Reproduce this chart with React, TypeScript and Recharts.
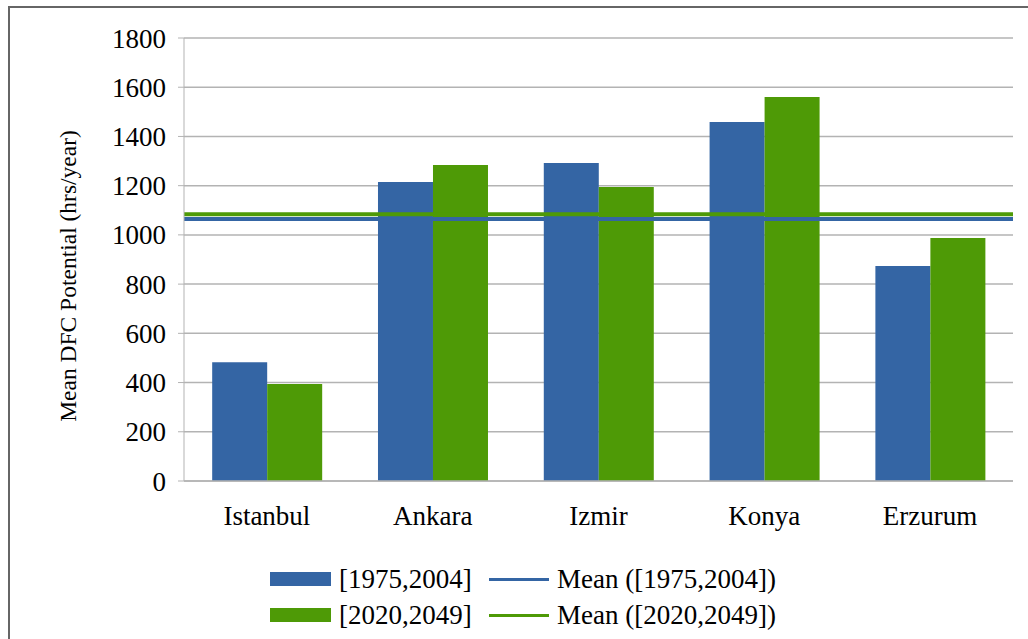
import { BarChart, Bar, XAxis, YAxis, CartesianGrid, ReferenceLine, Legend } from 'recharts'

const cities = ['Istanbul', 'Ankara', 'Izmir', 'Konya', 'Erzurum']
const baseline = [483, 1215, 1292, 1459, 874]
const future = [394, 1284, 1195, 1560, 987]
const seriesNames = ['[1975,2004]', '[2020,2049]']
const meanNames = ['Mean ([1975,2004])', 'Mean ([2020,2049])']
const meanValues = [1065, 1084]
const yTicks = [0, 200, 400, 600, 800, 1000, 1200, 1400, 1600, 1800]
const edgeTicks = [0, 1, 2, 3, 4, 5]

const BLUE = '#3465a4'
const GREEN = '#4e9a06'
const GRID = '#b3b3b3'
const FONT = '"Liberation Serif", "DejaVu Serif", serif'

const data = cities.map((name, i) => ({ name, baseline: baseline[i], future: future[i] }))

function LegendBox() {
  const colors = [BLUE, GREEN]
  return (
    <div style={{ fontFamily: FONT, fontSize: 27, color: '#000' }}>
      {colors.map((c, i) => (
        <div key={i} style={{ display: 'flex', alignItems: 'center', height: 36 }}>
          <div style={{ width: 219, display: 'flex', alignItems: 'center' }}>
            <div style={{ width: 61, height: 14, background: c, marginRight: 8 }} />
            <span>{seriesNames[i]}</span>
          </div>
          <div style={{ display: 'flex', alignItems: 'center' }}>
            <div style={{ width: 60, height: 3, background: c, marginRight: 8 }} />
            <span>{meanNames[i]}</span>
          </div>
        </div>
      ))}
    </div>
  )
}

function AxisLabel() {
  return (
    <text
      transform="translate(58, 268) rotate(-90)"
      textAnchor="middle"
      dominantBaseline="central"
      fontSize={23.5}
      fontFamily={FONT}
      fill="#000"
    >
      Mean DFC Potential (hrs/year)
    </text>
  )
}

export default function App() {
  return (
    <div
      style={{
        position: 'absolute',
        left: 8,
        top: 6,
        width: 1040,
        height: 640,
        borderTop: '2px solid #666',
        borderLeft: '2px solid #666',
        boxSizing: 'border-box',
        overflow: 'hidden',
        background: '#fff',
      }}
    >
      <BarChart
        width={1012}
        height={632}
        data={data}
        margin={{ top: 30, right: 9, left: 94, bottom: 119 }}
        barCategoryGap="17%"
        barGap={0}
      >
        <CartesianGrid vertical={false} stroke={GRID} strokeWidth={1.5} />
        <XAxis
          xAxisId="edges"
          type="number"
          domain={[0, 5]}
          ticks={edgeTicks}
          tick={false}
          axisLine={false}
          tickLine={{ stroke: GRID, strokeWidth: 1.5 }}
          tickSize={7}
          height={0}
        />
        <XAxis
          dataKey="name"
          tickLine={false}
          axisLine={{ stroke: GRID, strokeWidth: 1.5 }}
          tick={{ fontSize: 27, fill: '#000', fontFamily: FONT }}
          tickMargin={19}
          height={40}
          interval={0}
        />
        <YAxis
          domain={[0, 1800]}
          ticks={yTicks}
          width={80}
          axisLine={{ stroke: GRID }}
          tickLine={{ stroke: GRID }}
          tickSize={6}
          tickMargin={12}
          tick={{ fontSize: 27, fill: '#000', fontFamily: FONT }}
          label={{ content: AxisLabel }}
        />
        <YAxis
          yAxisId="right"
          orientation="right"
          domain={[0, 1800]}
          width={0}
          tick={false}
          tickLine={false}
          axisLine={{ stroke: GRID }}
        />
        <Bar dataKey="baseline" name={seriesNames[0]} fill={BLUE} isAnimationActive={false} />
        <Bar dataKey="future" name={seriesNames[1]} fill={GREEN} isAnimationActive={false} />
        <ReferenceLine y={meanValues[0]} stroke={BLUE} strokeWidth={4} />
        <ReferenceLine y={meanValues[1]} stroke={GREEN} strokeWidth={4} />
        <Legend
          layout="horizontal"
          verticalAlign="middle"
          align="center"
          content={() => <LegendBox />}
          wrapperStyle={{ position: 'absolute', left: 260, top: 553, width: 600 }}
        />
      </BarChart>
    </div>
  )
}
